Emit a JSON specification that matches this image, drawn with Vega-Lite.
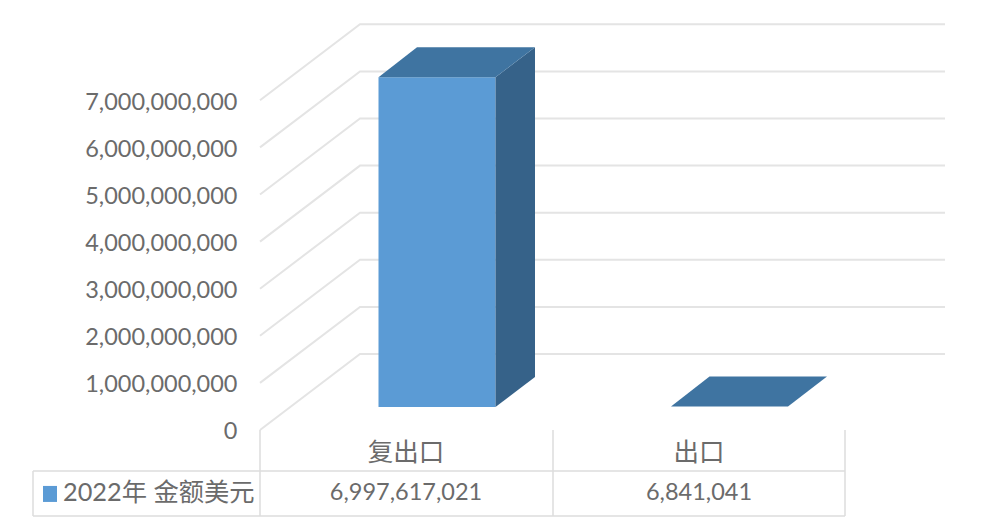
{
"$schema":"https://vega.github.io/schema/vega-lite/v6.json",
"width":737,"height":532,
"autosize":{"type":"none"},
"padding":{"left":245,"top":0,"right":0,"bottom":0},
"background":"white",
"config":{"view":{"stroke":null}},
"datasets":{
"grid":[
{"level":0,"pos":260,"v":0},{"level":0,"pos":360,"v":1613600000},{"level":0,"pos":945,"v":1613600000},
{"level":1,"pos":260,"v":1000000000},{"level":1,"pos":360,"v":2613600000},{"level":1,"pos":945,"v":2613600000},
{"level":2,"pos":260,"v":2000000000},{"level":2,"pos":360,"v":3613600000},{"level":2,"pos":945,"v":3613600000},
{"level":3,"pos":260,"v":3000000000},{"level":3,"pos":360,"v":4613600000},{"level":3,"pos":945,"v":4613600000},
{"level":4,"pos":260,"v":4000000000},{"level":4,"pos":360,"v":5613600000},{"level":4,"pos":945,"v":5613600000},
{"level":5,"pos":260,"v":5000000000},{"level":5,"pos":360,"v":6613600000},{"level":5,"pos":945,"v":6613600000},
{"level":6,"pos":260,"v":6000000000},{"level":6,"pos":360,"v":7613600000},{"level":6,"pos":945,"v":7613600000},
{"level":7,"pos":260,"v":7000000000},{"level":7,"pos":360,"v":8613600000},{"level":7,"pos":945,"v":8613600000}
],
"front":[{"category":"复出口","left":378.5,"right":495.5,"base":490000000,"top":7487617021}],
"faces":[
{"face":"side1","kind":"side","pos":495.5,"a":490000000,"b":7487617021},
{"face":"side1","kind":"side","pos":535,"a":1127000000,"b":8124617021},
{"face":"top1","kind":"top","pos":378.5,"a":7487617021,"b":7487617021},
{"face":"top1","kind":"top","pos":417,"a":8124617021,"b":7487617021},
{"face":"top1","kind":"top","pos":495.5,"a":8124617021,"b":7487617021},
{"face":"top1","kind":"top","pos":535,"a":8124617021,"b":8124617021},
{"face":"top2","kind":"top","pos":671,"a":496841041,"b":496841041},
{"face":"top2","kind":"top","pos":709.5,"a":1133841041,"b":496841041},
{"face":"top2","kind":"top","pos":788,"a":1133841041,"b":496841041},
{"face":"top2","kind":"top","pos":827,"a":1133841041,"b":1133841041}
],
"table":[
{"p1":33,"p2":845,"v1":-870000000,"v2":-870000000},
{"p1":33,"p2":845,"v1":-1826000000,"v2":-1826000000},
{"p1":33,"p2":33,"v1":-870000000,"v2":-1826000000},
{"p1":260,"p2":260,"v1":0,"v2":-1826000000},
{"p1":553,"p2":553,"v1":0,"v2":-1826000000},
{"p1":845,"p2":845,"v1":0,"v2":-1826000000}
],
"labels":[
{"pos":406,"v":-480000000,"text":"复出口","size":25.5},
{"pos":699,"v":-480000000,"text":"出口","size":25.5},
{"pos":406,"v":-1340000000,"text":"6,997,617,021","size":23.5},
{"pos":699,"v":-1340000000,"text":"6,841,041","size":23.5}
],
"legendText":[{"pos":63,"v":-1340000000,"text":"2022年 金额美元"}],
"swatch":[{"left":43,"right":57,"lo":-1528000000,"hi":-1188000000}]
},
"layer":[
{"data":{"name":"grid"},"mark":{"type":"line","color":"#e4e4e4","strokeWidth":2,"interpolate":"linear"},
"encoding":{
"x":{"field":"pos","type":"quantitative","scale":{"domain":[245,982],"nice":false,"zero":false},"axis":null},
"y":{"field":"v","type":"quantitative","scale":{"domain":[-2166000000,9130000000],"nice":false,"zero":false},
"axis":{"values":[0,1000000000,2000000000,3000000000,4000000000,5000000000,6000000000,7000000000],"labelExpr":"format(datum.value, ',d')","title":null,"domain":false,"ticks":false,"grid":false,"labelPadding":8,"labelOffset":2,"labelFont":"Lato","labelFontSize":23.5,"labelColor":"#6b6b6b","labelOverlap":false}},
"detail":{"field":"level","type":"nominal"},
"order":{"field":"pos","type":"quantitative"}}},
{"data":{"name":"table"},"mark":{"type":"rule","color":"#dddddd","strokeWidth":1.5},
"encoding":{
"x":{"field":"p1","type":"quantitative"},"x2":{"field":"p2"},
"y":{"field":"v1","type":"quantitative"},"y2":{"field":"v2"}}},
{"data":{"name":"front"},"mark":{"type":"rect","color":"#5b9bd5"},
"encoding":{
"x":{"field":"left","type":"quantitative"},"x2":{"field":"right"},
"y":{"field":"top","type":"quantitative"},"y2":{"field":"base"}}},
{"data":{"name":"faces"},"mark":{"type":"area","interpolate":"linear","opacity":1},
"encoding":{
"x":{"field":"pos","type":"quantitative"},
"y":{"field":"a","type":"quantitative"},"y2":{"field":"b"},
"detail":{"field":"face","type":"nominal"},
"color":{"field":"kind","type":"nominal","legend":null,"scale":{"domain":["side","top"],"range":["#366289","#3f74a1"]}}}},
{"data":{"name":"labels"},"mark":{"type":"text","font":"Lato, Noto Sans CJK SC","color":"#6b6b6b","align":"center","baseline":"middle"},
"encoding":{
"x":{"field":"pos","type":"quantitative"},
"y":{"field":"v","type":"quantitative"},
"text":{"field":"text","type":"nominal"},
"size":{"field":"size","type":"quantitative","scale":null,"legend":null}}},
{"data":{"name":"legendText"},"mark":{"type":"text","font":"Lato, Noto Sans CJK SC","fontSize":25.3,"color":"#6b6b6b","align":"left","baseline":"middle"},
"encoding":{
"x":{"field":"pos","type":"quantitative"},
"y":{"field":"v","type":"quantitative"},
"text":{"field":"text","type":"nominal"}}},
{"data":{"name":"swatch"},"mark":{"type":"rect","color":"#5b9bd5"},
"encoding":{
"x":{"field":"left","type":"quantitative"},"x2":{"field":"right"},
"y":{"field":"hi","type":"quantitative"},"y2":{"field":"lo"}}}
]
}
